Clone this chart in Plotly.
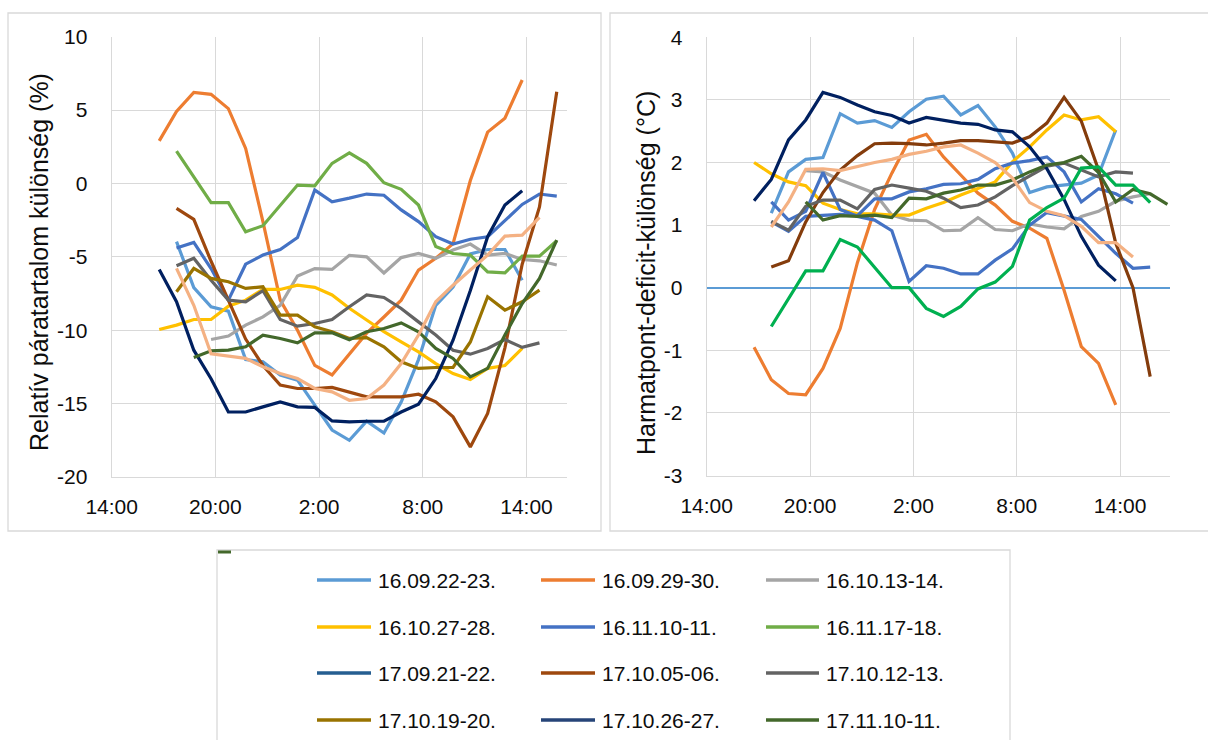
import plotly.graph_objects as go

# ---------------- data ----------------
TIMES = ["16:45", "17:45", "18:45", "19:45", "20:45", "21:45", "22:45", "23:45",
         "0:45", "1:45", "2:45", "3:45", "4:45", "5:45", "6:45", "7:45", "8:45",
         "9:45", "10:45", "11:45", "12:45", "13:45", "14:45", "15:45", "16:45"]

X_TICK_VALS = [0, 6, 12, 18, 24]           # hours after 14:00
X_TICK_TEXT = ["14:00", "20:00", "2:00", "8:00", "14:00"]
Y_TICKS_LEFT = [-20, -15, -10, -5, 0, 5, 10]
Y_TICKS_RIGHT = [-3, -2, -1, 0, 1, 2, 3, 4]

# relative humidity difference (%) - left panel
L_lightblue = [None, -3.96, -7.1, -8.4, -8.7, -12.0, -12.15, -13.05, -13.4, -15.1, -16.8, -17.5, -16.2, -17.0, -14.9, -12.0, -8.3, -7.05, -4.8, -4.5, -4.5, -6.6, None, None, None]
L_orange = [2.9, 4.9, 6.2, 6.07, 5.1, 2.39, -2.6, -7.95, -10.0, -12.4, -13.05, -11.6, -10.2, -9.1, -7.95, -5.9, -5.1, -4.1, 0.2, 3.5, 4.45, 7.05, None, None, None]
L_gray = [None, None, None, -10.63, -10.4, -9.65, -9.09, -8.3, -6.3, -5.8, -5.86, -4.9, -5.0, -6.1, -5.05, -4.77, -5.1, -4.54, -4.13, -4.88, -4.77, -5.18, -5.27, -5.56, None]
L_gold = [-9.95, -9.65, -9.27, -9.27, -8.36, -7.95, -7.22, -7.22, -6.93, -7.08, -7.6, -8.5, -9.3, -10.1, -10.8, -11.47, -12.27, -12.95, -13.36, -12.6, -12.4, -11.24, None, None, None]
L_blue = [None, -4.4, -4.02, -5.8, -7.95, -5.5, -4.88, -4.5, -3.68, -0.45, -1.25, -1.0, -0.72, -0.8, -1.8, -2.6, -3.63, -4.13, -3.8, -3.63, -2.5, -1.43, -0.72, -0.86, None]
L_green = [None, 2.2, 0.45, -1.31, -1.31, -3.29, -2.88, -1.47, -0.11, -0.16, 1.37, 2.09, 1.37, 0.05, -0.4, -1.47, -4.3, -4.77, -4.88, -6.02, -6.09, -4.95, -4.95, -3.9, None]
L_brown = [None, -1.7, -2.45, -5.3, -7.9, -10.6, -12.4, -13.74, -13.97, -13.97, -13.9, -14.2, -14.54, -14.54, -14.54, -14.36, -14.88, -15.9, -17.95, -15.67, -11.2, -5.5, -1.6, 6.25, None]
L_dgray = [None, -5.6, -5.1, -6.6, -7.95, -8.06, -7.31, -9.27, -9.72, -9.54, -9.27, -8.4, -7.6, -7.77, -8.52, -9.43, -10.33, -11.36, -11.63, -11.24, -10.63, -11.17, -10.86, None, None]
L_dgold = [None, -7.38, -5.79, -6.47, -6.7, -7.15, -7.04, -8.97, -8.97, -9.77, -10.1, -10.56, -10.5, -11.13, -12.15, -12.6, -12.54, -12.54, -10.8, -7.72, -8.63, -8.06, -7.27, None, None]
L_navy = [-5.86, -8.06, -11.36, -13.3, -15.57, -15.57, -15.22, -14.88, -15.22, -15.26, -16.18, -16.25, -16.2, -16.2, -15.57, -15.04, -13.29, -10.68, -7.3, -3.63, -1.47, -0.5, None, None, None]
L_dgreen = [None, None, -11.86, -11.4, -11.36, -11.13, -10.33, -10.56, -10.86, -10.18, -10.18, -10.65, -10.1, -9.88, -9.5, -10.1, -11.24, -11.92, -13.18, -12.6, -10.33, -8.18, -6.47, -3.86, None]
L_peach = [None, -5.79, -8.3, -11.6, -11.77, -11.92, -12.49, -12.95, -13.29, -13.97, -14.2, -14.77, -14.65, -13.74, -12.27, -10.33, -8.06, -6.93, -5.9, -4.88, -3.59, -3.52, -2.31, None, None]

# dew-point deficit difference (°C) - right panel
R_navy = [1.39, 1.73, 2.36, 2.68, 3.12, 3.04, 2.92, 2.81, 2.75, 2.63, 2.72, 2.68, 2.63, 2.61, 2.52, 2.49, 2.25, 1.9, 1.41, 0.82, 0.36, 0.11, None, None, None]
R_lightblue = [None, 1.19, 1.85, 2.05, 2.08, 2.78, 2.63, 2.67, 2.56, 2.81, 3.01, 3.06, 2.76, 2.91, 2.57, 2.15, 1.52, 1.61, 1.64, 1.67, 1.8, 2.52, None, None, None]
R_orange = [-0.95, -1.47, -1.69, -1.71, -1.29, -0.65, 0.4, 1.25, 1.83, 2.36, 2.45, 2.09, 1.8, 1.51, 1.32, 1.06, 0.95, 0.79, -0.04, -0.94, -1.21, -1.87, None, None, None]
R_gray = [None, None, None, 1.87, 1.85, 1.72, 1.61, 1.51, 1.16, 1.08, 1.07, 0.91, 0.92, 1.12, 0.93, 0.91, 1.02, 0.97, 0.94, 1.14, 1.22, 1.38, 1.45, 1.5, None]
R_gold = [2.0, 1.82, 1.69, 1.63, 1.35, 1.25, 1.18, 1.18, 1.16, 1.16, 1.27, 1.36, 1.48, 1.59, 1.69, 2.01, 2.25, 2.52, 2.76, 2.68, 2.73, 2.49, None, None, None]
R_blueA = [None, 1.37, 1.08, 1.22, 1.84, 1.25, 1.14, 1.08, 0.91, 0.1, 0.35, 0.31, 0.22, 0.22, 0.44, 0.62, 1.0, 1.2, 1.14, 1.09, 0.82, 0.55, 0.31, 0.33, None]
R_blueB = [None, 1.05, 0.9, 1.14, 1.15, 1.17, 1.15, 1.42, 1.42, 1.53, 1.58, 1.65, 1.66, 1.73, 1.9, 1.99, 2.03, 2.09, 1.85, 1.37, 1.58, 1.5, 1.35, None, None]
R_brown = [None, 0.33, 0.43, 1.05, 1.52, 1.88, 2.11, 2.3, 2.31, 2.3, 2.28, 2.31, 2.35, 2.35, 2.33, 2.31, 2.41, 2.63, 3.04, 2.66, 1.88, 0.71, 0.0, -1.42, None]
R_dgray = [None, 1.06, 0.92, 1.3, 1.4, 1.4, 1.26, 1.57, 1.64, 1.59, 1.54, 1.43, 1.28, 1.32, 1.45, 1.63, 1.78, 1.94, 1.99, 1.88, 1.77, 1.85, 1.83, None, None]
R_dgreen = [None, None, None, 1.37, 1.08, 1.15, 1.14, 1.16, 1.12, 1.43, 1.42, 1.51, 1.56, 1.64, 1.64, 1.72, 1.85, 1.96, 2.0, 2.1, 1.84, 1.37, 1.57, 1.5, 1.33]
R_peach = [None, 0.97, 1.37, 1.89, 1.9, 1.87, 1.94, 2.0, 2.05, 2.13, 2.18, 2.25, 2.28, 2.15, 2.0, 1.75, 1.36, 1.22, 1.15, 0.98, 0.72, 0.72, 0.49, None, None]
R_bgreen = [None, -0.62, -0.18, 0.27, 0.27, 0.77, 0.65, 0.33, 0.0, 0.0, -0.33, -0.46, -0.3, -0.02, 0.09, 0.34, 1.08, 1.28, 1.43, 1.91, 1.93, 1.64, 1.64, 1.36, None]

LEGEND_NAMES = ["16.09.22-23.", "16.09.29-30.", "16.10.13-14.",
                "16.10.27-28.", "16.11.10-11.", "16.11.17-18.",
                "17.09.21-22.", "17.10.05-06.", "17.10.12-13.",
                "17.10.19-20.", "17.10.26-27.", "17.11.10-11."]
LEGEND_COLORS = ["#5B9BD5", "#ED7D31", "#A5A5A5",
                 "#FFC000", "#4472C4", "#70AD47",
                 "#255E91", "#9E480E", "#636363",
                 "#997300", "#264478", "#43682B"]

LEFT_SERIES = [
    ("16.09.22-23.", "#5B9BD5", L_lightblue),
    ("16.09.29-30.", "#ED7D31", L_orange),
    ("16.10.13-14.", "#A5A5A5", L_gray),
    ("16.10.27-28.", "#FFC000", L_gold),
    ("16.11.10-11.", "#4472C4", L_blue),
    ("16.11.17-18.", "#70AD47", L_green),
    ("17.10.05-06.", "#9E480E", L_brown),
    ("17.10.12-13.", "#636363", L_dgray),
    ("17.10.19-20.", "#997300", L_dgold),
    ("17.10.26-27.", "#002060", L_navy),
    ("17.11.10-11.", "#43682B", L_dgreen),
    ("series 13", "#F4B183", L_peach),
]
RIGHT_SERIES = [
    ("16.09.22-23.", "#5B9BD5", R_lightblue),
    ("16.09.29-30.", "#ED7D31", R_orange),
    ("16.10.13-14.", "#A5A5A5", R_gray),
    ("16.10.27-28.", "#FFC000", R_gold),
    ("16.11.10-11.", "#4472C4", R_blueA),
    ("series B", "#4472C4", R_blueB),
    ("17.10.05-06.", "#843C0C", R_brown),
    ("17.10.12-13.", "#636363", R_dgray),
    ("17.10.26-27.", "#002060", R_navy),
    ("17.11.10-11.", "#43682B", R_dgreen),
    ("series 13", "#F4B183", R_peach),
    ("16.11.17-18.", "#00B050", R_bgreen),
]


def to_hours(times):
    out, prev = [], None
    for t in times:
        hh, mm = t.split(":")
        v = (int(hh) + int(mm) / 60.0 - 14) % 24
        if prev is not None:
            while v < prev:
                v += 24
        out.append(v)
        prev = v
    return out


HOURS = to_hours(TIMES)

# ---------------- figure ----------------
W, H = 1208, 740
FONT = "Liberation Sans"
GRID = "#D9D9D9"
TXT = "#0D0D0D"


def fx(p):
    return p / W


def fy(p):
    return 1 - p / H


fig = go.Figure()
for name, color, vals in LEFT_SERIES:
    fig.add_trace(go.Scatter(x=HOURS, y=vals, mode="lines", name=name,
                             line=dict(color=color, width=3.2),
                             xaxis="x", yaxis="y", showlegend=False))
for name, color, vals in RIGHT_SERIES:
    fig.add_trace(go.Scatter(x=HOURS, y=vals, mode="lines", name=name,
                             line=dict(color=color, width=3.2),
                             xaxis="x2", yaxis="y2", showlegend=False))

xcommon = dict(tickmode="array", tickvals=X_TICK_VALS, ticktext=X_TICK_TEXT,
               showgrid=True, gridcolor=GRID, gridwidth=1.3,
               showline=True, linecolor=GRID, linewidth=1.3,
               zeroline=False, ticks="", automargin=False,
               tickfont=dict(family=FONT, size=21, color=TXT),
               ticklabelstandoff=11, fixedrange=True)
ycommon = dict(tickmode="array", showgrid=True, gridcolor=GRID, gridwidth=1.3,
               showline=True, linecolor=GRID, linewidth=1.3,
               ticks="", automargin=False,
               tickfont=dict(family=FONT, size=21, color=TXT),
               ticklabelstandoff=19, fixedrange=True)

fig.update_layout(
    width=W, height=H,
    margin=dict(l=0, r=0, t=0, b=0, pad=0),
    paper_bgcolor="white", plot_bgcolor="white",
    showlegend=False,
    xaxis=dict(xcommon, domain=[fx(111.7), fx(567.3)], range=[0, 26.36], anchor="y"),
    yaxis=dict(ycommon, domain=[fy(477), fy(36.7)], range=[-20, 10],
               tickvals=Y_TICKS_LEFT, ticktext=[str(v) for v in Y_TICKS_LEFT],
               zeroline=False, anchor="x"),
    xaxis2=dict(xcommon, domain=[fx(706.7), fx(1170)], range=[0, 26.9], anchor="y2"),
    yaxis2=dict(ycommon, domain=[fy(475.5), fy(37.3)], range=[-3, 4],
                tickvals=Y_TICKS_RIGHT, ticktext=[str(v) for v in Y_TICKS_RIGHT],
                zeroline=True, zerolinecolor="#5B9BD5", zerolinewidth=1.6, anchor="x2"),
)

shapes = []
# panel frames
shapes.append(dict(type="rect", xref="paper", yref="paper",
                   x0=fx(8), x1=fx(601), y0=fy(531), y1=fy(13),
                   line=dict(color=GRID, width=1.3), fillcolor="rgba(0,0,0,0)", layer="below"))
shapes.append(dict(type="rect", xref="paper", yref="paper",
                   x0=fx(610), x1=fx(1212), y0=fy(531), y1=fy(13),
                   line=dict(color=GRID, width=1.3), fillcolor="rgba(0,0,0,0)", layer="below"))
# legend frame
shapes.append(dict(type="rect", xref="paper", yref="paper",
                   x0=fx(217), x1=fx(1010), y0=fy(746), y1=fy(550),
                   line=dict(color=GRID, width=1.3), fillcolor="rgba(0,0,0,0)", layer="below"))
# partially hidden legend glyph
shapes.append(dict(type="line", xref="paper", yref="paper",
                   x0=fx(218), x1=fx(231), y0=fy(552), y1=fy(552),
                   line=dict(color="#43682B", width=3)))

annotations = []
COL_LINE_X0 = [317, 541, 766]
COL_LINE_X1 = [371, 595, 819]
COL_TEXT_X = [376, 600, 824]
ROW_Y = [580, 627, 673, 720]
for i, (nm, col) in enumerate(zip(LEGEND_NAMES, LEGEND_COLORS)):
    r, c = divmod(i, 3)
    shapes.append(dict(type="line", xref="paper", yref="paper",
                       x0=fx(COL_LINE_X0[c]), x1=fx(COL_LINE_X1[c]),
                       y0=fy(ROW_Y[r]), y1=fy(ROW_Y[r]),
                       line=dict(color=col, width=3.5)))
    annotations.append(dict(xref="paper", yref="paper", x=fx(COL_TEXT_X[c]), y=fy(ROW_Y[r]),
                            text=nm, showarrow=False, xanchor="left", yanchor="middle",
                            font=dict(family=FONT, size=21, color=TXT)))

annotations.append(dict(xref="paper", yref="paper", x=fx(39), y=fy(262),
                        text="Relatív páratartalom különség (%)", textangle=-90,
                        showarrow=False, xanchor="center", yanchor="middle",
                        font=dict(family=FONT, size=25, color=TXT)))
annotations.append(dict(xref="paper", yref="paper", x=fx(646), y=fy(273),
                        text="Harmatpont-deficit-különség (°C)", textangle=-90,
                        showarrow=False, xanchor="center", yanchor="middle",
                        font=dict(family=FONT, size=25, color=TXT)))

fig.update_layout(shapes=shapes, annotations=annotations)

fig.write_html("out.html")
